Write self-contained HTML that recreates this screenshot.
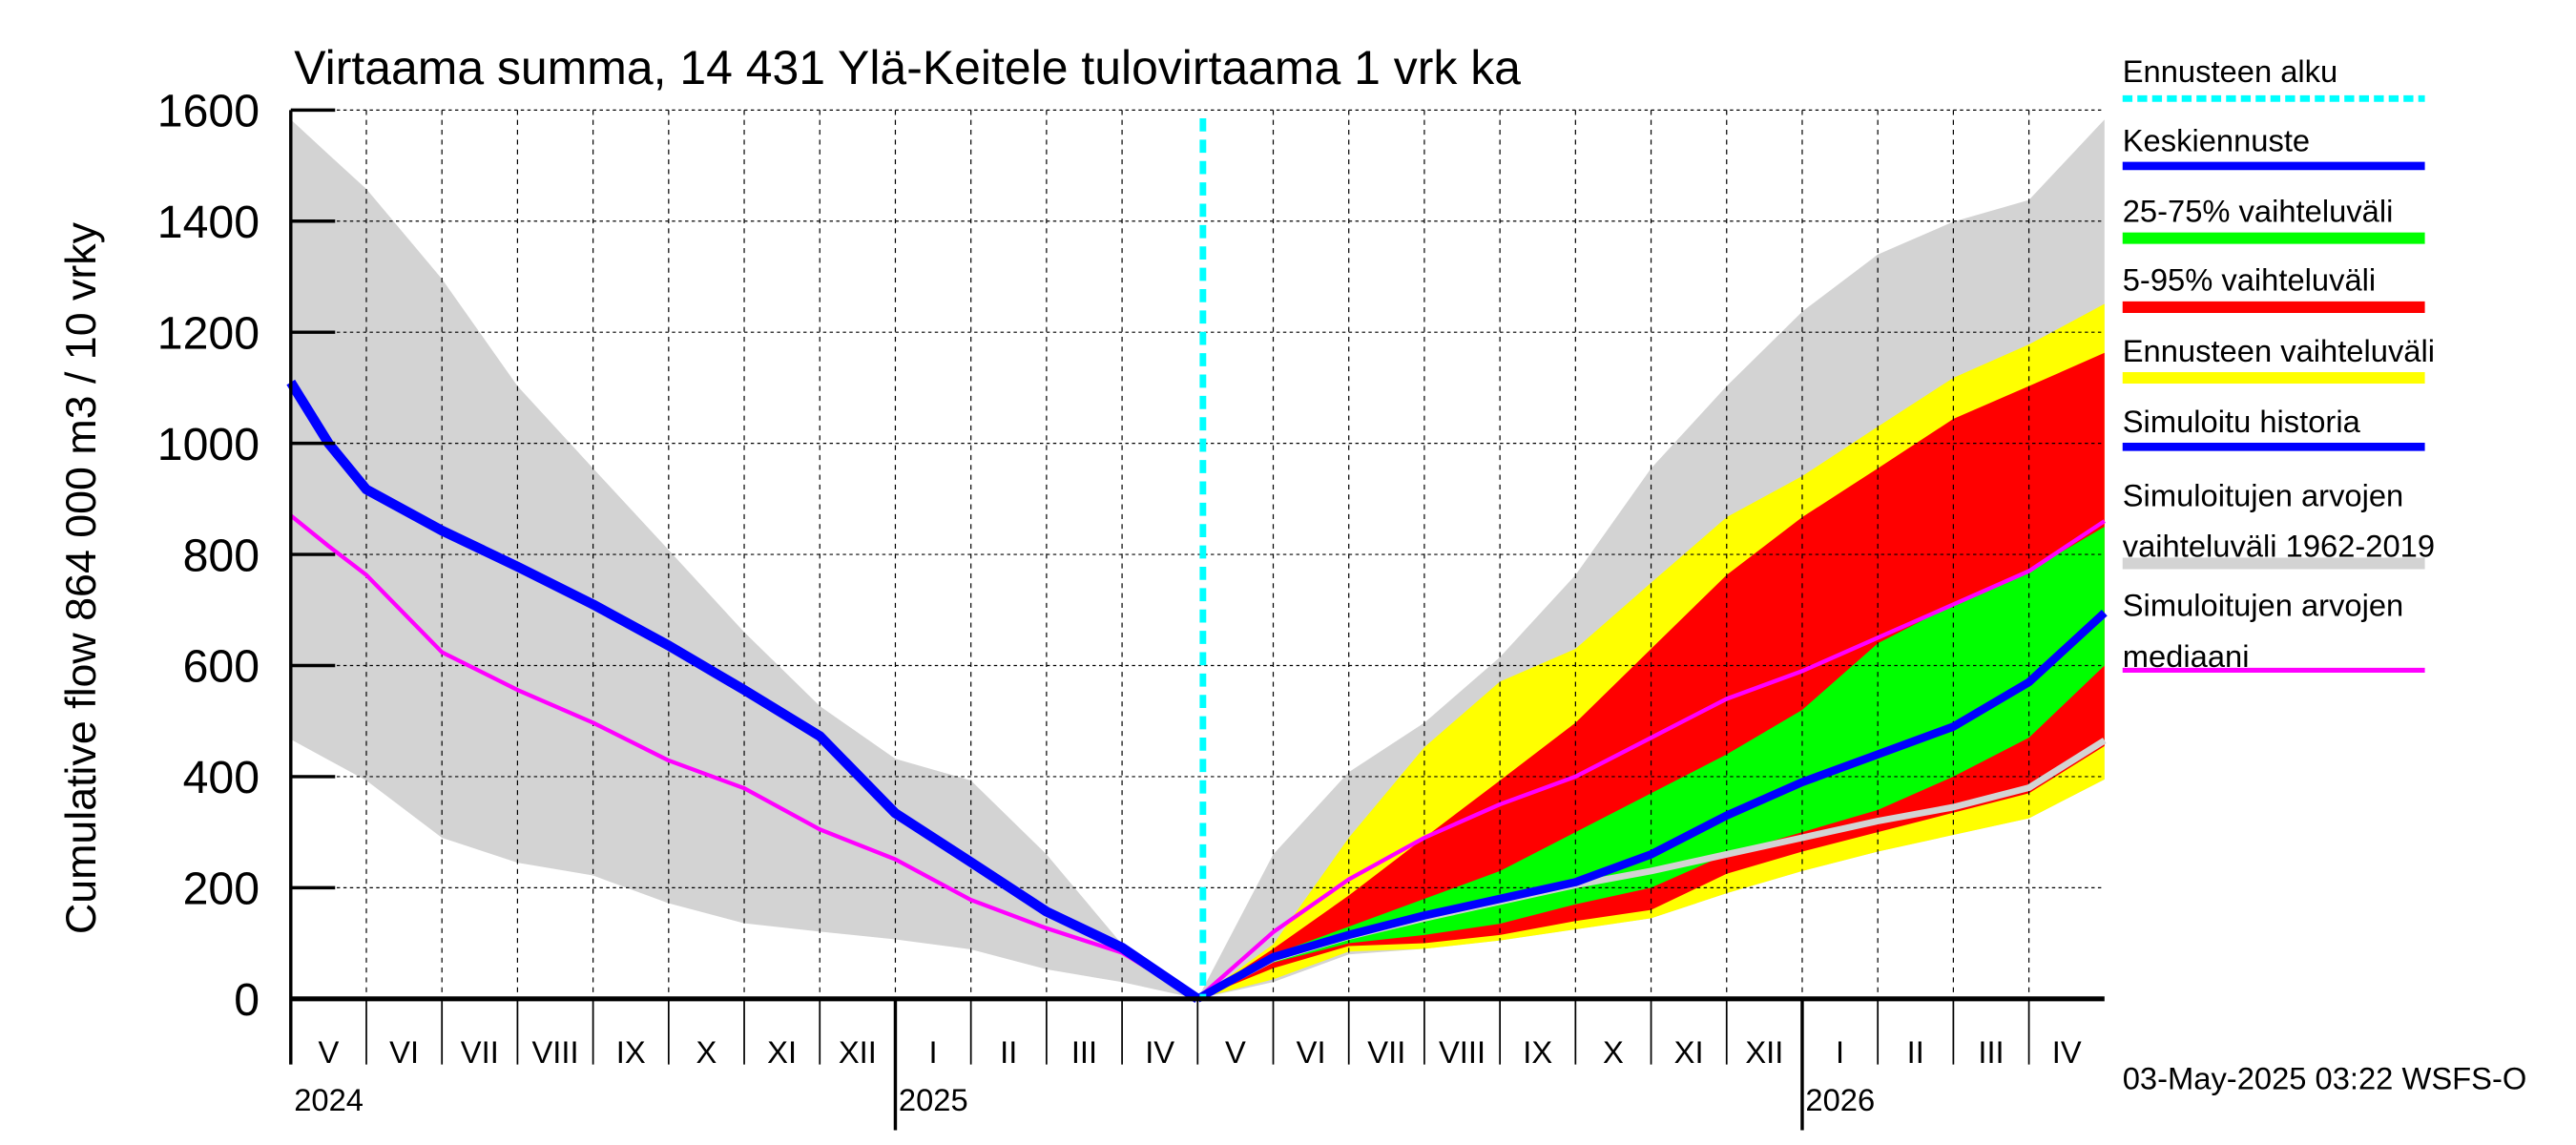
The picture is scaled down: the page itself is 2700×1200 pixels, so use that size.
<!DOCTYPE html>
<html><head><meta charset="utf-8"><style>
html,body{margin:0;padding:0;background:#fff;}
svg{display:block;font-family:"Liberation Sans",sans-serif;}
</style></head><body>
<svg id="chart" width="2700" height="1200" viewBox="0 0 1568 697" preserveAspectRatio="none" xmlns="http://www.w3.org/2000/svg">
<g id="bands"></g><g id="grid"></g><g id="lines"></g><g id="axes"></g><g id="legend"></g>
</svg>
<script>
// month index (0 = May 2024, 12 = May 2025 forecast start, 24 = May 2026)
const leftMonths = [0,0.5,1,2,3,4,5,6,7,8,9,10,11,12];
const histUpper = [1583,1520,1458,1296,1103,955,808,660,527,432,393,260,98,0];
const histLower = [467,430,393,290,245,222,172,136,121,107,89,53,30,0];
const blueLeft  = [1110,1000,917,843,778,710,636,556,473,334,246,157,92,0];
const magLeft   = [870,815,763,624,556,497,429,379,305,251,178,127,83,0];

const rightMonths = [12,13,14,15,16,17,18,19,20,21,22,23,24];
const simUpper  = [0,260,408,497,615,763,955,1103,1237,1340,1399,1438,1583];
const simLower  = [0,30,80,90,105,125,145,190,230,265,295,325,395];
const yelUpper  = [0,98,290,453,571,630,749,867,941,1030,1118,1178,1251];
const yelLower  = [0,35,85,90,105,125,145,190,230,265,295,325,395];
const redUpper  = [0,90,186,290,393,497,630,763,867,955,1044,1103,1163];
const redLower  = [0,55,95,100,115,140,160,225,265,300,335,370,455];
const grnUpper  = [0,80,130,180,230,300,370,440,520,640,710,770,850];
const grnLower  = [0,65,100,115,135,170,200,260,300,340,400,470,600];
const blueRight = [0,75,115,150,180,210,260,330,390,440,490,570,695];
const magRight  = [0,120,215,290,350,400,470,540,590,650,710,770,860];
const simMedMonths = [12,13,14,15,16,17,18,19,20,21,22,23,24];
const simMedian = [0,72,112,145,175,205,230,260,290,320,345,380,465];

const yTicks = [0,200,400,600,800,1000,1200,1400,1600];
const monthLabels = ["V","VI","VII","VIII","IX","X","XI","XII","I","II","III","IV","V","VI","VII","VIII","IX","X","XI","XII","I","II","III","IV"];
const yearLabels = [["2024",0],["2025",8],["2026",20]];

const X0=177,X1=1281,Y0=608,YT=67;
const xs = m => X0 + (X1-X0)*m/24;
const ys = v => Y0 - (Y0-YT)*v/1600;
const NS="http://www.w3.org/2000/svg";
function mk(tag,parent,attrs){const e=document.createElementNS(NS,tag);for(const k in attrs)e.setAttribute(k,attrs[k]);document.getElementById(parent).appendChild(e);return e;}
function band(ms,up,lo,color,name){
  let d="M"+ms.map((m,i)=>xs(m)+","+ys(up[i])).join("L");
  for(let i=ms.length-1;i>=0;i--) d+="L"+xs(ms[i])+","+ys(lo[i]);
  const p=mk("path","bands",{d:d+"Z",fill:color});
  
  
}
function line(ms,vals,color,w,name){
  const p=mk("path","lines",{d:"M"+ms.map((m,i)=>xs(m)+","+ys(vals[i])).join("L"),fill:"none",stroke:color,"stroke-width":w,"stroke-linejoin":"round"});
  
  
}
band(leftMonths,histUpper,histLower,"#d3d3d3","history-range-band-left");
band(rightMonths,simUpper,simLower,"#d3d3d3","history-range-band-right");
band(rightMonths,yelUpper,yelLower,"#ffff00","forecast-range-band");
band(rightMonths,redUpper,redLower,"#ff0000","band-5-95");
band(rightMonths,grnUpper,grnLower,"#00ff00","band-25-75");
for(const v of yTicks){ if(v>0){const g=mk("line","grid",{x1:X0,x2:X1,y1:ys(v),y2:ys(v),stroke:"#000","stroke-width":0.7,"stroke-dasharray":"2,2"});
  
  }}
for(let m=1;m<24;m++){ if(m===12) continue;
  const g=mk("line","grid",{x1:xs(m),x2:xs(m),y1:YT,y2:Y0,stroke:"#000","stroke-width":0.7,"stroke-dasharray":"3,3"});
  
  }
line(simMedMonths,simMedian,"#d3d3d3",4,"simulated-median-line");
line(leftMonths,magLeft,"#ff00ff",2.5,"median-line-left");
line(rightMonths,magRight,"#ff00ff",2.5,"median-line-right");
line(leftMonths,blueLeft,"#0000ff",6,"simulated-history-line");
line(rightMonths,blueRight,"#0000ff",5,"mean-forecast-line");
const fc=mk("line","lines",{x1:xs(12.07),x2:xs(12.07),y1:YT+5,y2:Y0,stroke:"#00ffff","stroke-width":4,"stroke-dasharray":"8,5"});


const ax=mk("line","axes",{x1:X0,x2:X0,y1:YT,y2:Y0+40,stroke:"#000","stroke-width":2});


const bx=mk("line","axes",{x1:X0,x2:X1,y1:Y0,y2:Y0,stroke:"#000","stroke-width":3});


for(const v of yTicks){
  const t=mk("line","axes",{x1:X0,x2:X0+27,y1:ys(v),y2:ys(v),stroke:"#000","stroke-width":2});
  
  
  const l=mk("text","axes",{x:158,y:ys(v)+10,"text-anchor":"end","font-size":28});
  l.textContent=v;
  
  
}
for(let m=1;m<24;m++){
  const yr=(m===8||m===20);
  const t=mk("line","axes",{x1:xs(m),x2:xs(m),y1:Y0,y2:yr?688:648,stroke:"#000","stroke-width":yr?2:1});
  
  
}
monthLabels.forEach((s,i)=>{
  const l=mk("text","axes",{x:xs(i+0.5),y:647,"text-anchor":"middle","font-size":19});
  l.textContent=s;
  
  
});
yearLabels.forEach(([s,m])=>{
  const l=mk("text","axes",{x:xs(m)+2,y:676,"font-size":19});
  l.textContent=s;
  
  
});
const title=mk("text","axes",{x:179,y:51,"font-size":29});
title.textContent="Virtaama summa, 14 431 Ylä-Keitele tulovirtaama 1 vrk ka";


const yt=mk("text","axes",{x:0,y:0,"font-size":26,transform:"translate(58,352) rotate(-90)","text-anchor":"middle"});
yt.textContent="Cumulative flow      864 000 m3 / 10 vrky";


const ts=mk("text","axes",{x:1292,y:663,"font-size":19});
ts.textContent="03-May-2025 03:22 WSFS-O";


const legendItems=[
 [["Ennusteen alku"],50,60,"#00ffff",4,"6,3","legend-forecast-start"],
 [["Keskiennuste"],92,101,"#0000ff",5,null,"legend-mean-forecast"],
 [["25-75% vaihteluväli"],135,145,"#00ff00",7,null,"legend-25-75"],
 [["5-95% vaihteluväli"],177,187,"#ff0000",7,null,"legend-5-95"],
 [["Ennusteen vaihteluväli"],220,230,"#ffff00",7,null,"legend-forecast-range"],
 [["Simuloitu historia"],263,272,"#0000ff",5,null,"legend-simulated-history"],
 [["Simuloitujen arvojen","vaihteluväli 1962-2019"],308,343,"#d3d3d3",7,null,"legend-history-range"],
 [["Simuloitujen arvojen","mediaani"],375,408,"#ff00ff",3,null,"legend-median"]
];
legendItems.forEach(([txt,ty,ly,c,w,da,name])=>{
  txt.forEach((s,i)=>{
    const t=mk("text","legend",{x:1292,y:ty+i*31,"font-size":19});
    t.textContent=s;
    
    
  });
  const a={x1:1292,x2:1476,y1:ly,y2:ly,stroke:c,"stroke-width":w};
  if(da)a["stroke-dasharray"]=da;
  const l=mk("line","legend",a);
  
  
});
</script>
</body></html>
